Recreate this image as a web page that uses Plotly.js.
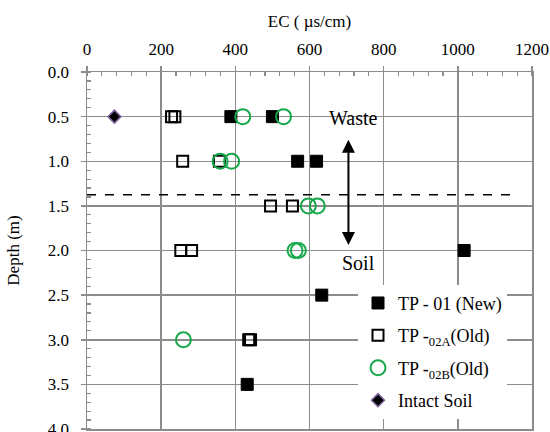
<!DOCTYPE html>
<html>
<head>
<meta charset="utf-8">
<script src="https://cdn.plot.ly/plotly-3.0.1.min.js"></script>
<style>html,body{margin:0;padding:0;background:#fff}#chart{width:550px;height:432px}</style>
</head>
<body>
<div id="chart"></div>
<script>
// Data
const tp01EC    = [388, 500, 568, 619, 1017, 633, 432];
const tp01Depth = [0.5, 0.5, 1.0, 1.0, 2.0, 2.5, 3.5];

const tp02aEC    = [228, 237, 258, 357, 495, 554, 253, 282, 436, 441];
const tp02aDepth = [0.5, 0.5, 1.0, 1.0, 1.5, 1.5, 2.0, 2.0, 3.0, 3.0];

const tp02bEC    = [420, 530, 359, 390, 597, 621, 561, 570, 260];
const tp02bDepth = [0.5, 0.5, 1.0, 1.0, 1.5, 1.5, 2.0, 2.0, 3.0];

const intactEC    = [74];
const intactDepth = [0.5];

const seriesNames = ['TP - 01 (New)', 'TP -<sub>02A</sub>(Old)', 'TP -<sub>02B</sub>(Old)', 'Intact Soil'];

const boundaryDepth = 1.375;
const boundaryEC = [0, 1160];
const arrowEC = 705;
const arrowDepth = [0.76, 1.955];

const FONT = "Liberation Serif, DejaVu Serif";
const GRID = '#8c8c8c';

const traces = [
  {x: tp01EC, y: tp01Depth, name: seriesNames[0], type: 'scatter', mode: 'markers', legendgroup: 'a',
   marker: {symbol: 'square', size: 12, color: '#000000', line: {color: '#000000', width: 1}}},
  {x: tp02aEC, y: tp02aDepth, name: seriesNames[1], type: 'scatter', mode: 'markers', legendgroup: 'b',
   marker: {symbol: 'square-open', size: 11, color: '#000000', line: {color: '#000000', width: 2}}},
  {x: tp02bEC, y: tp02bDepth, name: seriesNames[2], type: 'scatter', mode: 'markers', legendgroup: 'c',
   marker: {symbol: 'circle-open', size: 15, color: '#16a84a', line: {color: '#16a84a', width: 2}}},
  {x: intactEC, y: intactDepth, name: seriesNames[3], type: 'scatter', mode: 'markers', legendgroup: 'd',
   marker: {symbol: 'diamond', size: 10, color: '#000000', line: {color: '#8064a2', width: 1.5}}}
];

const layout = {
  width: 550, height: 432,
  margin: {l: 87, r: 18, t: 72, b: 3},
  paper_bgcolor: '#ffffff', plot_bgcolor: '#ffffff',
  font: {family: FONT, size: 17, color: '#000000'},
  showlegend: true,
  legend: {x: 0.609, y: 0.404, xanchor: 'left', yanchor: 'top', bgcolor: '#ffffff',
           borderwidth: 0, font: {family: FONT, size: 18, color: '#000'},
           traceorder: 'grouped', tracegroupgap: 6, itemwidth: 30},
  xaxis: {
    side: 'top', range: [0, 1200], dtick: 200, tick0: 0,
    showgrid: true, gridcolor: GRID, gridwidth: 1.5,
    showline: true, linecolor: GRID, linewidth: 1.5, mirror: true,
    ticks: 'outside', ticklen: 5, tickcolor: GRID, tickwidth: 1.5,
    ticklabelstandoff: 4,
    minor: {dtick: 40, ticks: 'inside', ticklen: 4, tickcolor: GRID, tickwidth: 1.2, showgrid: false},
    zeroline: false,
    tickfont: {family: FONT, size: 17},
    title: {text: 'EC ( µs/cm)', font: {family: FONT, size: 17}, standoff: 8}
  },
  yaxis: {
    range: [4, 0], dtick: 0.5, tick0: 0, tickformat: '.1f',
    showgrid: true, gridcolor: GRID, gridwidth: 1.5,
    showline: true, linecolor: GRID, linewidth: 1.5, mirror: true,
    ticks: 'outside', ticklen: 5, tickcolor: GRID, tickwidth: 1.5,
    ticklabelstandoff: 8, ticklabeloverflow: 'allow',
    minor: {dtick: 0.1, ticks: 'inside', ticklen: 4, tickcolor: GRID, tickwidth: 1.2, showgrid: false},
    zeroline: false,
    tickfont: {family: FONT, size: 17},
    title: {text: 'Depth (m)', font: {family: FONT, size: 17}, standoff: 24}
  },
  shapes: [
    {type: 'line', xref: 'x', yref: 'y', x0: boundaryEC[0], x1: boundaryEC[1], y0: boundaryDepth, y1: boundaryDepth,
     line: {color: '#000000', width: 1.5, dash: 'dash'}}
  ],
  annotations: [
    {xref: 'x', yref: 'y', axref: 'x', ayref: 'y', x: arrowEC, y: arrowDepth[0], ax: arrowEC, ay: arrowDepth[1],
     showarrow: true, arrowhead: 2, startarrowhead: 2, arrowside: 'end+start', arrowsize: 1.3, arrowwidth: 2,
     arrowcolor: '#000000', text: ''},
    {xref: 'x', yref: 'y', x: 718, y: 0.51, text: 'Waste', showarrow: false, font: {family: FONT, size: 20}},
    {xref: 'x', yref: 'y', x: 733, y: 2.14, text: 'Soil', showarrow: false, font: {family: FONT, size: 20}}
  ]
};

Plotly.newPlot('chart', traces, layout, {displayModeBar: false, staticPlot: true});
</script>
</body>
</html>
